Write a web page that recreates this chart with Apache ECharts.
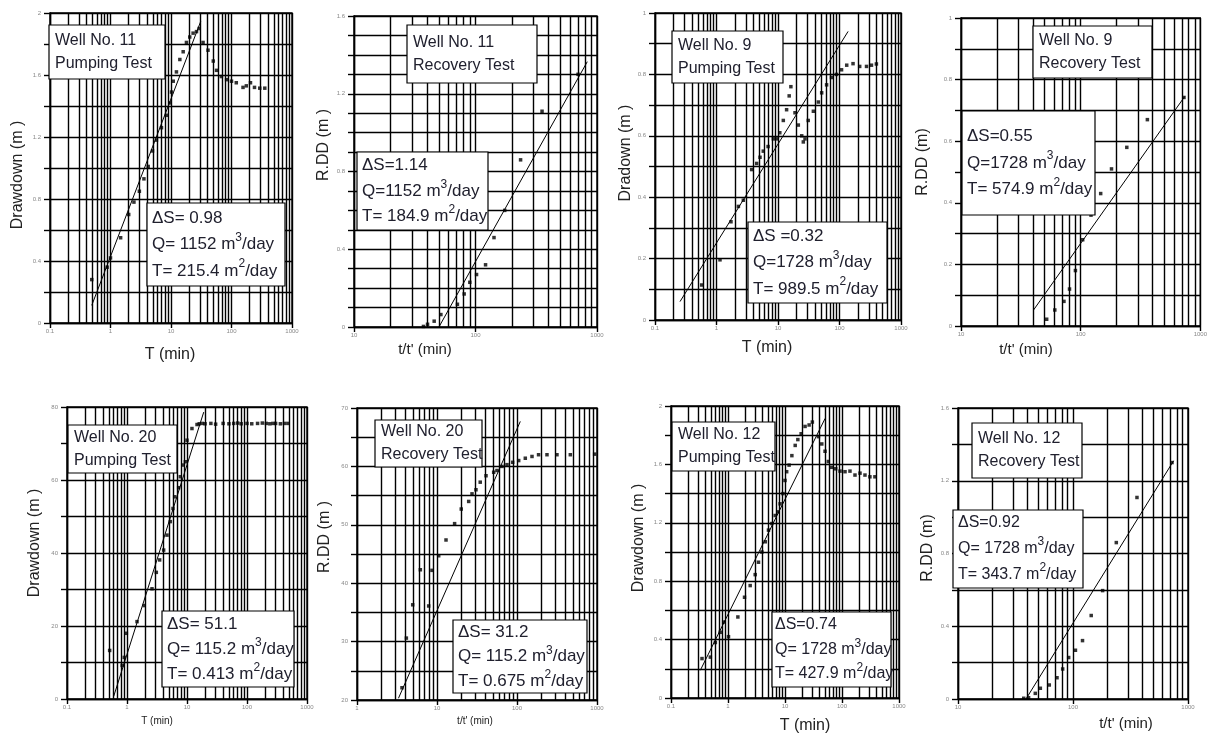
<!DOCTYPE html>
<html>
<head>
<meta charset="utf-8">
<script src="https://cdn.jsdelivr.net/npm/echarts@6/dist/echarts.min.js"></script>
<style>
  html, body { margin: 0; padding: 0; background: #fff; }
  #main { width: 1210px; height: 733px; }
</style>
</head>
<body>
<div id="main"></div>
<script>
// Well No. 11 pumping test
const w11PumpT = [0.49, 0.88, 1.0, 1.47, 2.0, 2.44, 3.0, 3.57, 4.2, 4.95, 5.75, 6.96, 8.4, 9.56, 10.2, 10.9, 12.3, 14.0, 15.9, 18.0, 20.4, 23.2, 26.4, 29.2, 33.9, 40.9, 50, 56.6, 68, 83, 100, 120, 155, 176, 206, 240, 293, 355]
const w11PumpS = [0.28, 0.36, 0.42, 0.55, 0.70, 0.78, 0.85, 0.93, 1.01, 1.11, 1.18, 1.26, 1.34, 1.42, 1.49, 1.56, 1.62, 1.70, 1.75, 1.81, 1.845, 1.87, 1.88, 1.90, 1.81, 1.76, 1.69, 1.63, 1.59, 1.57, 1.56, 1.55, 1.52, 1.53, 1.55, 1.52, 1.515, 1.515]
const w11PumpFitT = [0.49, 31]
const w11PumpFitS = [0.114, 1.946]

// Well No. 11 recovery test
const w11RecT = [37.3, 40.3, 45.7, 51.9, 71, 80.7, 89.8, 102, 121, 142, 174, 235, 353, 698]
const w11RecS = [0.003, 0.014, 0.03, 0.064, 0.117, 0.17, 0.23, 0.27, 0.32, 0.46, 0.60, 0.86, 1.11, 1.30]
const w11RecFitT = [50, 832]
const w11RecFitS = [0, 1.365]

// Well No. 9 pumping test
const w9PumpT = [0.574, 1.14, 1.72, 2.27, 2.73, 3.73, 4.5, 5.1, 5.76, 6.9, 8.4, 9.5, 10.7, 12.2, 13.8, 15.2, 16.2, 18.9, 21.4, 24.3, 25.8, 27.5, 31, 37.6, 45.3, 51.3, 61.7, 74, 89, 108, 131, 166, 213, 275, 331, 398]
const w9PumpS = [0.114, 0.196, 0.32, 0.37, 0.39, 0.49, 0.51, 0.53, 0.55, 0.565, 0.59, 0.59, 0.61, 0.65, 0.685, 0.73, 0.76, 0.675, 0.635, 0.60, 0.58, 0.59, 0.65, 0.68, 0.71, 0.74, 0.766, 0.79, 0.80, 0.815, 0.83, 0.835, 0.826, 0.826, 0.83, 0.834]
const w9PumpFitT = [0.255, 138]
const w9PumpFitS = [0.06, 0.94]

// Well No. 9 recovery test
const w9RecT = [52, 60.8, 72.5, 80.7, 90.4, 104, 122, 147, 181, 243, 361, 730]
const w9RecS = [0.022, 0.052, 0.08, 0.12, 0.18, 0.28, 0.36, 0.43, 0.51, 0.58, 0.67, 0.742]
const w9RecFitT = [40.4, 740]
const w9RecFitS = [0.052, 0.745]

// Well No. 20 pumping test
const w20PumpT = [0.514, 0.83, 0.9, 0.975, 1.47, 1.94, 2.61, 3.08, 3.5, 4.08, 4.64, 5.27, 5.84, 6.23, 7.26, 7.74, 8.58, 9.4, 10, 12.1, 14.7,
  16, 18, 20, 25, 30, 40, 50, 60, 70, 80, 100, 120, 150, 180, 210, 240, 270, 300, 360, 420, 480]
const w20PumpS = [13.3, 9.2, 11.4, 18.0, 21.2, 25.6, 30.2, 34.7, 38.1, 40.8, 44.9, 48.6, 52.2, 55.4, 57.9, 60.9, 64.1, 65, 70.9, 74.1, 75.2,
  75.4, 75.5, 75.4, 75.5, 75.3, 75.5, 75.4, 75.5, 75.6, 75.4, 75.5, 75.4, 75.5, 75.6, 75.5, 75.4, 75.5, 75.5, 75.4, 75.5, 75.5]
const w20PumpFitT = [0.6, 19]
const w20PumpFitS = [0.73, 78.6]

// Well No. 20 recovery test
const w20RecT = [3.65, 4.14, 4.97, 6.19, 7.87, 8.66, 10.5, 12.96, 16.6, 20.1, 24.9, 27.4, 30.7, 34.7, 41, 51.1, 56.2, 64.9, 75, 88.3, 105, 127, 154, 186, 237, 316, 464, 934]
const w20RecS = [22.1, 30.6, 36.3, 42.3, 36.1, 42.2, 44.7, 47.4, 50.2, 52.7, 54, 55.3, 56, 57.3, 58.4, 59, 59.3, 60, 60.3, 60.7, 61, 61.4, 61.7, 62, 62, 62, 62, 62.1]
const w20RecFitT = [3.3, 110]
const w20RecFitS = [20.3, 67.7]

// Well No. 12 pumping test
const w12PumpT = [0.35, 0.49, 0.6, 0.73, 0.84, 1.02, 1.49, 1.95, 2.45, 3.0, 3.43, 3.93, 4.5, 5.13, 5.88, 6.73, 7.49, 8.2, 9.2, 10, 10.7, 11.8, 13.2, 15.1, 16.8, 19.2, 22.5, 26.5, 30.2, 38.6, 44.2, 50.4, 57.5, 66, 77.6, 92.4, 113, 138, 169, 207, 253, 309, 378]
const w12PumpS = [0.27, 0.28, 0.38, 0.45, 0.52, 0.42, 0.555, 0.69, 0.77, 0.845, 0.93, 1.0, 1.07, 1.15, 1.195, 1.25, 1.275, 1.33, 1.40, 1.49, 1.55, 1.595, 1.66, 1.73, 1.77, 1.81, 1.86, 1.87, 1.89, 1.79, 1.74, 1.69, 1.62, 1.58, 1.57, 1.554, 1.55, 1.554, 1.527, 1.54, 1.527, 1.515, 1.515]
const w12PumpFitT = [0.327, 50.6]
const w12PumpFitS = [0.19, 1.915]

// Well No. 12 recovery test
const w12RecT = [37.3, 41.1, 47, 52, 62.2, 72.6, 81.3, 91.7, 105, 121, 144, 181, 238, 360, 726]
const w12RecS = [0.004, 0.007, 0.031, 0.059, 0.077, 0.117, 0.165, 0.228, 0.268, 0.321, 0.459, 0.596, 0.86, 1.108, 1.30]
const w12RecFitT = [39, 750]
const w12RecFitS = [0, 1.31]

// box texts
const titles = ['Well No. 11\nPumping Test', 'Well No. 11\nRecovery Test', 'Well No. 9\nPumping Test', 'Well No. 9\nRecovery Test',
  'Well No. 20\nPumping Test', 'Well No. 20\nRecovery Test', 'Well No. 12\nPumping Test', 'Well No. 12\nRecovery Test']
const deltaS = ['ΔS= 0.98', 'ΔS=1.14', 'ΔS =0.32', 'ΔS=0.55', 'ΔS= 51.1', 'ΔS= 31.2', 'ΔS=0.74', 'ΔS=0.92']
const qText = ['Q= 1152 m', 'Q=1152 m', 'Q=1728 m', 'Q=1728 m', 'Q= 115.2 m', 'Q= 115.2 m', 'Q= 1728 m', 'Q= 1728 m']
const tText = ['T= 215.4 m', 'T= 184.9 m', 'T= 989.5 m', 'T= 574.9 m', 'T= 0.413 m', 'T= 0.675 m', 'T= 427.9 m', 'T= 343.7 m']
const xNames = ['T (min)', "t/t' (min)", 'T (min)', "t/t' (min)", 'T (min)', "t/t' (min)", 'T (min)', "t/t' (min)"]
const yNames = ['Drawdown (m )', 'R.DD (m )', 'Dradown (m )', 'R.DD (m)', 'Drawdown (m )', 'R.DD (m )', 'Drawdown (m )', 'R.DD (m)']

const FONT = "'Liberation Sans', Arial, sans-serif"

// pBox: x, y, w, h, font size, line height, left padding
const panels = [
  {rect: [50, 13, 242, 310], x: [0.1, 1000], y: [0, 2, 0.2, 0.4], pts: [w11PumpT, w11PumpS], fit: [w11PumpFitT, w11PumpFitS],
   tBox: [49, 25, 116, 54], pBox: [147, 203, 138, 83, 17, 26.5, 5], xName: [170, 355, 16], yName: [18, 175]},
  {rect: [354, 16, 243, 311], x: [10, 1000], y: [0, 1.6, 0.1, 0.4], pts: [w11RecT, w11RecS], fit: [w11RecFitT, w11RecFitS],
   tBox: [407, 25, 130, 58], pBox: [357, 152, 131, 78, 17, 25.5, 5], xName: [425, 350, 15], yName: [324, 145]},
  {rect: [655, 13, 246, 307], x: [0.1, 1000], y: [0, 1, 0.1, 0.2], pts: [w9PumpT, w9PumpS], fit: [w9PumpFitT, w9PumpFitS],
   tBox: [672, 31, 111, 52], pBox: [748, 222, 139, 81, 17, 26.5, 5], xName: [767, 348, 16], yName: [626, 153]},
  {rect: [961, 18, 244, 308], x: [10, 1000], y: [0, 1, 0.1, 0.2], pts: [w9RecT, w9RecS], fit: [w9RecFitT, w9RecFitS],
   tBox: [1033, 26, 119, 52], pBox: [962, 111, 133, 104, 17, 26.5, 5], xName: [1026, 350, 15], yName: [923, 162]},
  {rect: [67, 407, 240, 292], x: [0.1, 1000], y: [0, 80, 10, 20], pts: [w20PumpT, w20PumpS], fit: [w20PumpFitT, w20PumpFitS],
   tBox: [68, 425, 109, 48], pBox: [162, 611, 132, 76, 17, 25, 5], xName: [157, 721, 10], yName: [35, 543]},
  {rect: [357, 408, 240, 292], x: [1, 1000], y: [20, 70, 5, 10], pts: [w20RecT, w20RecS], fit: [w20RecFitT, w20RecFitS],
   tBox: [375, 420, 107, 47], pBox: [453, 620, 134, 73, 17, 24.5, 5], xName: [475, 721, 10], yName: [325, 537]},
  {rect: [671, 406, 228, 292], x: [0.1, 1000], y: [0, 2, 0.2, 0.4], pts: [w12PumpT, w12PumpS], fit: [w12PumpFitT, w12PumpFitS],
   tBox: [672, 422, 103, 49], pBox: [772, 612, 119, 75, 16, 24.5, 3], xName: [805, 726, 16], yName: [639, 538]},
  {rect: [958, 408, 230, 291], x: [10, 1000], y: [0, 1.6, 0.2, 0.4], pts: [w12RecT, w12RecS], fit: [w12RecFitT, w12RecFitS],
   tBox: [972, 423, 110, 55], pBox: [953, 510, 130, 78, 16, 26, 5], xName: [1126, 724, 15], yName: [928, 548]}
]

// 2..9 lines of each decade
function minorLines(min, max) {
  const out = []
  for (let d = min; d < max * 0.999; d *= 10) {
    for (let k = 2; k <= 9; k++) out.push(Number((k * d).toPrecision(3)))
  }
  return out
}

const GRID_W = 1.4
const grid = [], xAxis = [], yAxis = [], series = [], graphic = []

panels.forEach((p, i) => {
  grid.push({left: p.rect[0], top: p.rect[1], width: p.rect[2], height: p.rect[3],
    show: true, borderColor: '#000', borderWidth: GRID_W, backgroundColor: '#fff'})
  xAxis.push({
    type: 'log', logBase: 10, gridIndex: i, min: p.x[0], max: p.x[1],
    axisLine: {show: true, lineStyle: {color: '#000', width: GRID_W}},
    axisTick: {show: true, length: 5, lineStyle: {color: '#000', width: GRID_W}},
    axisLabel: {fontSize: 6, color: '#888', margin: 5, fontFamily: FONT,
      formatter: v => String(Number(Number(v).toPrecision(4)))},
    splitLine: {show: true, lineStyle: {color: '#000', width: GRID_W}}
  })
  const labStep = p.y[3]
  yAxis.push({
    type: 'value', gridIndex: i, min: p.y[0], max: p.y[1], interval: p.y[2],
    axisLine: {show: true, lineStyle: {color: '#000', width: GRID_W}},
    axisTick: {show: true, length: 6, lineStyle: {color: '#000', width: GRID_W}},
    axisLabel: {fontSize: 6, color: '#888', margin: 9, fontFamily: FONT,
      formatter: v => {
        const r = v / labStep
        return Math.abs(r - Math.round(r)) < 1e-6 ? String(Number(v.toFixed(2))) : ''
      }},
    splitLine: {show: true, lineStyle: {color: '#000', width: GRID_W}}
  })
  series.push({
    type: 'line', xAxisIndex: i, yAxisIndex: i, symbol: 'none', silent: true, z: 3,
    data: p.fit[0].map((t, j) => [t, p.fit[1][j]]),
    lineStyle: {color: '#000', width: 1},
    markLine: {
      silent: true, symbol: 'none', label: {show: false}, z: 1,
      lineStyle: {color: '#000', width: GRID_W, type: 'solid'},
      data: minorLines(p.x[0], p.x[1]).map(v => ({xAxis: v}))
    }
  })
  series.push({
    type: 'scatter', xAxisIndex: i, yAxisIndex: i, symbol: 'rect', symbolSize: 3.5, z: 4,
    data: p.pts[0].map((t, j) => [t, p.pts[1][j]]),
    itemStyle: {color: '#000'}
  })

  // title box
  const tb = p.tBox
  graphic.push({type: 'rect', z: 100, shape: {x: tb[0], y: tb[1], width: tb[2], height: tb[3]},
    style: {fill: '#fff', stroke: '#000', lineWidth: 1.2}})
  graphic.push({type: 'text', z: 101, x: tb[0] + 6, y: tb[1] + (tb[3] - 46) / 2,
    style: {text: titles[i], fontSize: 16, lineHeight: 23, fontFamily: FONT, fill: '#20202e', verticalAlign: 'top'}})

  // parameter box
  const pb = p.pBox
  const fs = pb[4], lh = pb[5]
  graphic.push({type: 'rect', z: 100, shape: {x: pb[0], y: pb[1], width: pb[2], height: pb[3]},
    style: {fill: '#fff', stroke: '#000', lineWidth: 1.2}})
  graphic.push({type: 'text', z: 101, x: pb[0] + pb[6], y: pb[1] + (pb[3] - 3 * lh) / 2,
    style: {
      text: '{n|' + deltaS[i] + '}\n{n|' + qText[i] + '}{s|3}{n|/day}\n{n|' + tText[i] + '}{s|2}{n|/day}',
      verticalAlign: 'top', fontFamily: FONT,
      rich: {
        n: {fontSize: fs, lineHeight: lh, fontFamily: FONT, fill: '#20202e'},
        s: {fontSize: Math.round(fs * 0.72), lineHeight: lh * 0.64, verticalAlign: 'top', fontFamily: FONT, fill: '#20202e'}
      }
    }})

  // axis names
  graphic.push({type: 'text', z: 50, x: p.xName[0], y: p.xName[1],
    style: {text: xNames[i], fontSize: p.xName[2], fontFamily: FONT, fill: '#222', align: 'center', verticalAlign: 'middle'}})
  graphic.push({type: 'text', z: 50, x: p.yName[0], y: p.yName[1], rotation: Math.PI / 2,
    style: {text: yNames[i], fontSize: 16, fontFamily: FONT, fill: '#222', align: 'center', verticalAlign: 'middle'}})
})

const myChart = echarts.init(document.getElementById('main'))
myChart.setOption({
  animation: false,
  backgroundColor: '#fff',
  grid, xAxis, yAxis, series, graphic
})
</script>
</body>
</html>
